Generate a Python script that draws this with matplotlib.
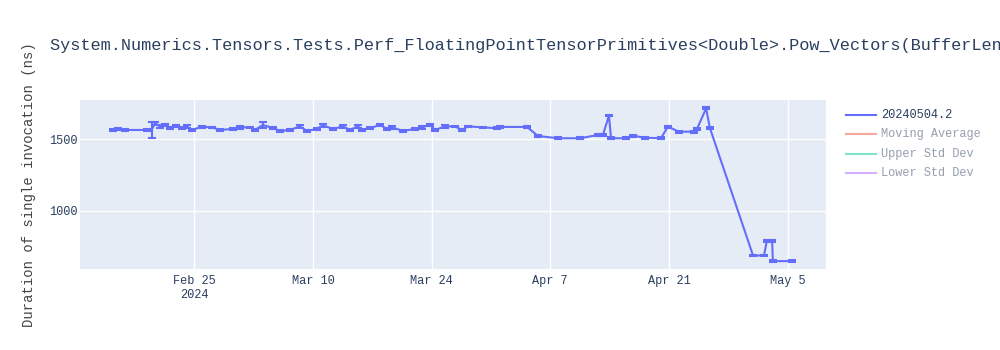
import numpy as np
import matplotlib
matplotlib.use("Agg")
import matplotlib.pyplot as plt
from matplotlib.lines import Line2D

# run timestamps and measured durations (ns)
dates = [
    "2024-02-15 10:00", "2024-02-16 00:00", "2024-02-16 19:00", "2024-02-19 10:00",
    "2024-02-19 23:00", "2024-02-20 09:00", "2024-02-20 23:00", "2024-02-21 13:00",
    "2024-02-22 03:00", "2024-02-22 20:00", "2024-02-23 13:00", "2024-02-24 03:00",
    "2024-02-24 18:00", "2024-02-25 22:00", "2024-02-27 02:00", "2024-02-28 01:00",
    "2024-02-29 14:00", "2024-03-01 09:00", "2024-03-02 14:00", "2024-03-03 04:00",
    "2024-03-04 02:00", "2024-03-05 07:00", "2024-03-06 02:00", "2024-03-07 07:00",
    "2024-03-08 11:00", "2024-03-09 07:00", "2024-03-10 11:00", "2024-03-11 04:00",
    "2024-03-12 09:00", "2024-03-13 13:00", "2024-03-14 09:00", "2024-03-15 07:00",
    "2024-03-15 19:00", "2024-03-16 18:00", "2024-03-17 22:00", "2024-03-18 18:00",
    "2024-03-19 08:00", "2024-03-20 15:00", "2024-03-22 01:00", "2024-03-22 21:00",
    "2024-03-23 19:00", "2024-03-24 10:00", "2024-03-25 14:00", "2024-03-26 18:00",
    "2024-03-27 14:00", "2024-03-28 07:00", "2024-03-30 01:00", "2024-03-31 17:00",
    "2024-04-01 02:00", "2024-04-04 06:00", "2024-04-05 13:00", "2024-04-07 22:00",
    "2024-04-10 12:00", "2024-04-12 15:00", "2024-04-13 05:00", "2024-04-13 22:00",
    "2024-04-14 04:00", "2024-04-15 22:00", "2024-04-16 18:00", "2024-04-18 04:00",
    "2024-04-20 01:00", "2024-04-20 21:00", "2024-04-22 04:00", "2024-04-23 23:00",
    "2024-04-24 07:00", "2024-04-25 09:00", "2024-04-25 20:00", "2024-04-30 22:00",
    "2024-05-02 05:00", "2024-05-02 13:00", "2024-05-03 04:00", "2024-05-03 06:00",
    "2024-05-05 12:00",
]
durations = [
    1565, 1572, 1565, 1565, 1565, 1611, 1590, 1600, 1580, 1595, 1580, 1590,
    1565, 1588, 1583, 1565, 1572, 1583, 1583, 1565, 1600, 1578, 1558, 1565,
    1590, 1558, 1572, 1597, 1572, 1590, 1565, 1590, 1565, 1578, 1600, 1572,
    1583, 1558, 1572, 1583, 1600, 1565, 1590, 1590, 1565, 1590, 1583, 1577,
    1586, 1586, 1523, 1507, 1507, 1530, 1530, 1665, 1507, 1507, 1525, 1511,
    1507, 1588, 1553, 1553, 1570, 1716, 1577, 689, 689, 791, 791, 650,
    650,
]
errors = [
    6, 6, 6, 6, 53, 10, 8, 8, 8, 8, 8, 8,
    6, 8, 6, 6, 6, 8, 6, 6, 18, 8, 6, 6,
    8, 6, 6, 8, 6, 8, 6, 8, 6, 8, 10, 6,
    8, 6, 6, 8, 10, 6, 8, 6, 8, 6, 6, 6,
    6, 6, 6, 6, 6, 6, 6, 6, 6, 6, 6, 6,
    6, 6, 6, 8, 6, 8, 6, 6, 6, 6, 6, 6,
    6,
]

series_names = ["20240504.2", "Moving Average", "Upper Std Dev", "Lower Std Dev"]
series_colors = ["#636efa", "#EF553B", "#00cc96", "#ab63fa"]

title = ("System.Numerics.Tensors.Tests.Perf_FloatingPointTensorPrimitives"
         "<Double>.Pow_Vectors(BufferLength: 3079)")

plt.rcParams["font.family"] = ["Liberation Mono", "DejaVu Sans Mono"]
text_color = "#2a3f5f"

x = np.array(dates, dtype="datetime64[m]").astype("O")

fig = plt.figure(figsize=(10, 3.5), dpi=100)
ax = fig.add_axes([0.08, 0.2306, 0.746, 0.4837])
ax.set_facecolor("#E5ECF6")
ax.errorbar(x, durations, yerr=errors, color=series_colors[0], lw=1.5,
            elinewidth=1.5, capsize=3, capthick=1.5, zorder=3)

ax.set_xlim(np.datetime64("2024-02-11 12:30").astype("O"),
            np.datetime64("2024-05-09 12:30").astype("O"))
ax.set_ylim(593, 1774)
ax.set_yticks([1000, 1500])

ticks = np.arange(np.datetime64("2024-02-25"), np.datetime64("2024-05-06"),
                  np.timedelta64(14, "D")).astype("O")
ax.set_xticks(ticks)
labels = [t.strftime("%b ") + str(t.day) for t in ticks]
labels[0] = labels[0] + "\n2024"
ax.set_xticklabels(labels)

ax.grid(True, color="white", lw=1)
ax.set_axisbelow(True)
for s in ax.spines.values():
    s.set_visible(False)
ax.tick_params(length=0, labelsize=8.6, colors=text_color)
ax.tick_params(axis="y", pad=2)
ax.tick_params(axis="x", pad=4)
ax.set_ylabel("Duration of single invocation (ns)", fontsize=10, color="#444444",
              labelpad=9)

fig.text(0.05, 0.87, title, fontsize=12.2, color=text_color, va="center")

# legend, first trace visible, others hidden
for i, (name, col) in enumerate(zip(series_names, series_colors)):
    yy = 1 - (115 + 19.3 * i) / 350
    faded = i > 0
    fig.add_artist(Line2D([0.846, 0.876], [yy, yy], color=col, lw=1.5,
                          alpha=0.5 if faded else 1.0))
    fig.text(0.881, yy, name, fontsize=8.6, va="center", color=text_color,
             alpha=0.5 if faded else 1.0)

fig.savefig("out.png", dpi=100)
